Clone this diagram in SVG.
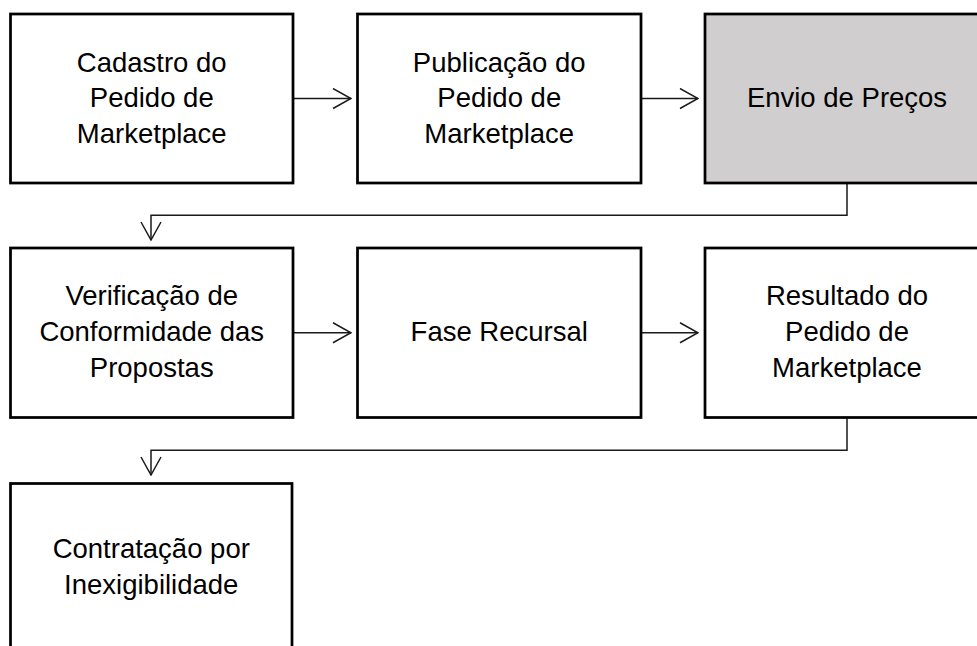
<svg xmlns="http://www.w3.org/2000/svg" width="977" height="646" viewBox="0 0 977 646">
<style>
.box{fill:#ffffff;stroke:#000000;stroke-width:2.75}
.gray{fill:#d0cece}
.t{font-family:"Liberation Sans",Arial,sans-serif;font-size:27.5px;fill:#000000;text-anchor:middle}
.c{fill:none;stroke:#1a1a1a;stroke-width:1.5}
</style>
<defs>
<marker id="ah" viewBox="0 0 20 22" refX="19" refY="11" markerWidth="20" markerHeight="22" markerUnits="userSpaceOnUse" orient="auto">
<path d="M1,1 L19,11 L1,21" fill="none" stroke="#1a1a1a" stroke-width="1.5"/>
</marker>
</defs>
<rect width="977" height="646" fill="#ffffff"/>
<g id="connectors">
<line class="c" x1="293" y1="98.5" x2="351" y2="98.5" marker-end="url(#ah)"/>
<line class="c" x1="641" y1="98.5" x2="698" y2="98.5" marker-end="url(#ah)"/>
<polyline class="c" points="847,183 847,215.3 151,215.3 151,240" marker-end="url(#ah)"/>
<line class="c" x1="293" y1="332.75" x2="351" y2="332.75" marker-end="url(#ah)"/>
<line class="c" x1="641" y1="332.75" x2="698" y2="332.75" marker-end="url(#ah)"/>
<polyline class="c" points="847,417.5 847,450.3 151,450.3 151,475" marker-end="url(#ah)"/>
</g>
<g id="n1"><rect class="box" x="10.5" y="14" width="282.5" height="169"/>
<text class="t" x="151.75" y="71.7">Cadastro do</text><text class="t" x="151.75" y="107.3">Pedido de</text><text class="t" x="151.75" y="143">Marketplace</text></g>
<g id="n2"><rect class="box" x="357.5" y="14" width="283.5" height="169"/>
<text class="t" x="499.25" y="71.7">Publicação do</text><text class="t" x="499.25" y="107.3">Pedido de</text><text class="t" x="499.25" y="143">Marketplace</text></g>
<g id="n3"><rect class="box gray" x="705" y="14" width="284" height="169"/>
<text class="t" x="847" y="107">Envio de Preços</text></g>
<g id="n4"><rect class="box" x="10.5" y="248" width="282.5" height="169.5"/>
<text class="t" x="151.75" y="305.4">Verificação de</text><text class="t" x="151.75" y="341.2">Conformidade das</text><text class="t" x="151.75" y="377">Propostas</text></g>
<g id="n5"><rect class="box" x="357.5" y="248" width="283.5" height="169.5"/>
<text class="t" x="499.25" y="341.2">Fase Recursal</text></g>
<g id="n6"><rect class="box" x="705" y="248" width="284" height="169.5"/>
<text class="t" x="847" y="305.4">Resultado do</text><text class="t" x="847" y="341.2">Pedido de</text><text class="t" x="847" y="377">Marketplace</text></g>
<g id="n7"><rect class="box" x="10.5" y="483.5" width="281.5" height="168"/>
<text class="t" x="151.25" y="558">Contratação por</text><text class="t" x="151.25" y="593.8">Inexigibilidade</text></g>
</svg>
